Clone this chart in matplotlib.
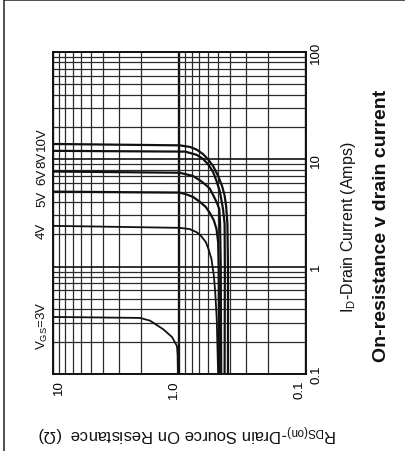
import matplotlib
matplotlib.use("Agg")
import matplotlib.pyplot as plt
from matplotlib.ticker import LogLocator, NullFormatter
from matplotlib.lines import Line2D
import matplotlib.transforms as mtransforms

plt.rcParams['font.family'] = ['Liberation Sans', 'DejaVu Sans']
plt.rcParams['mathtext.fontset'] = 'custom'
plt.rcParams['mathtext.rm'] = 'Liberation Sans'
plt.rcParams['mathtext.it'] = 'Liberation Sans:italic'
plt.rcParams['mathtext.bf'] = 'Liberation Sans:bold'

# ---- data: drain current (A) vs on-resistance (ohm) per gate voltage ----
vgs_labels = [r'V$_{\mathrm{GS}}$=3V', '4V', '5V', '6V', '8V', '10V']
label_current = [0.286, 2.2, 4.36, 7.0, 10.1, 15.8]

i_3v = [0.1, 0.15, 0.182, 0.221, 0.262, 0.314, 0.333, 0.34]
r_3v = [1.03, 1.035, 1.047, 1.146, 1.35, 1.71, 2.05, 10]

i_4v = [0.1, 0.33, 0.58, 0.82, 1.18, 1.46, 1.7, 1.95, 2.09, 2.24, 2.3, 2.4]
r_4v = [0.495, 0.508, 0.522, 0.535, 0.559, 0.59, 0.62, 0.68, 0.73, 0.83, 1.0, 10]

i_5v = [0.1, 1.0, 1.7, 2.24, 2.7, 3.15, 3.6, 4.01, 4.47, 4.75, 4.9, 5.0]
r_5v = [0.485, 0.49, 0.495, 0.51, 0.535, 0.574, 0.62, 0.689, 0.782, 0.9, 1.0, 10]

i_6v = [0.1, 1.0, 2.6, 3.45, 3.98, 4.6, 5.3, 5.69, 6.3, 7.0, 7.5, 7.7]
r_6v = [0.468, 0.472, 0.478, 0.485, 0.508, 0.54, 0.574, 0.61, 0.68, 0.782, 1.0, 10]

i_8v = [0.1, 1.0, 2.5, 3.45, 4.97, 6.3, 7.63, 8.9, 10.1, 11.0, 11.8, 12.0]
r_8v = [0.44, 0.438, 0.44, 0.453, 0.479, 0.51, 0.543, 0.59, 0.652, 0.73, 0.9, 10]

i_10v = [0.1, 1.0, 2.5, 3.68, 4.6, 5.65, 7.0, 8.68, 10.0, 11.2, 12.3, 13.05, 13.5, 13.9]
r_10v = [0.414, 0.414, 0.418, 0.428, 0.44, 0.461, 0.495, 0.543, 0.595, 0.652, 0.73, 0.826, 1.0, 10]

r_ticks = [10, 1, 0.1]
r_tick_labels = ['10', '1.0', '0.1']
i_ticks = [0.1, 1, 10, 100]
i_tick_labels = ['0.1', '1', '10', '100']

series = [(i_3v, r_3v, 1.3), (i_4v, r_4v, 1.3), (i_5v, r_5v, 1.6),
          (i_6v, r_6v, 1.6), (i_8v, r_8v, 1.6), (i_10v, r_10v, 1.6)]

W, H = 406, 452
fig = plt.figure(figsize=(W / 100, H / 100), dpi=100)
fig.patch.set_facecolor('white')

# axes in pixel geometry: left 53, right 306, top 53, bottom 375
ax = fig.add_axes([53 / W, 1 - 375 / H, 253 / W, 322 / H])
ax.set_xscale('log')
ax.set_yscale('log')
ax.set_xlim(10, 0.1)
ax.set_ylim(0.1, 100)

# grid
ax.xaxis.set_minor_locator(LogLocator(base=10, subs=range(2, 10)))
ax.yaxis.set_minor_locator(LogLocator(base=10, subs=range(2, 10)))
ax.xaxis.set_minor_formatter(NullFormatter())
ax.yaxis.set_minor_formatter(NullFormatter())
ax.grid(which='minor', color='#2a2a2a', linewidth=0.9)
ax.xaxis.grid(which='major', color='#111111', linewidth=1.7)
ax.yaxis.grid(which='major', color='#111111', linewidth=1.2)
ax.set_axisbelow(True)

for i_vals, r_vals, lw in series:
    ax.plot(r_vals, i_vals, color='#111111', linewidth=lw, solid_capstyle='butt', zorder=3)

for s in ax.spines.values():
    s.set_color('#111111')
    s.set_linewidth(1.4)

ax.set_xticks(r_ticks)
ax.set_xticklabels(r_tick_labels, rotation=90, fontsize=9.5, va='top')
xl = ax.get_xticklabels()
xl[0].set_ha('left')
xl[1].set_ha('right')
xl[2].set_ha('right')

ax.yaxis.tick_right()
ax.set_yticks(i_ticks)
ax.set_yticklabels(i_tick_labels, rotation=90, fontsize=9.5, va='center', ha='left')
ax.tick_params(which='both', length=0)
ax.tick_params(axis='x', pad=4)
ax.tick_params(axis='y', pad=3)

# curve labels, left of the axes
trans = mtransforms.blended_transform_factory(ax.transAxes, ax.transData)
for lab, yv in zip(vgs_labels, label_current):
    ax.text(-0.043, yv, lab, transform=trans, rotation=90, ha='center', va='center',
            fontsize=9.5, color='#111111')

# axis labels and title
fig.text(349 / W, 1 - 227 / H, r'I$_{\mathrm{D}}$-Drain Current (Amps)', rotation=90,
         ha='center', va='center', fontsize=11.5, color='#111111')
fig.text(187 / W, 1 - 432 / H, r'R$_{\mathrm{DS(on)}}$-Drain Source On Resistance  (Ω)',
         rotation=180, ha='center', va='center', fontsize=12, color='#111111')
fig.text(382 / W, 1 - 226 / H, 'On-resistance v drain current', rotation=90,
         ha='center', va='center', fontsize=14, fontweight='bold', color='#111111')

# outer frame (left and top edges)
fig.add_artist(Line2D([4 / W, 4 / W], [0, 1 - 1 / H], transform=fig.transFigure,
                      color='#333333', linewidth=1.2))
fig.add_artist(Line2D([4 / W, 1], [1 - 1 / H, 1 - 1 / H], transform=fig.transFigure,
                      color='#333333', linewidth=1.2))

fig.savefig('out.png', dpi=100, facecolor='white')
